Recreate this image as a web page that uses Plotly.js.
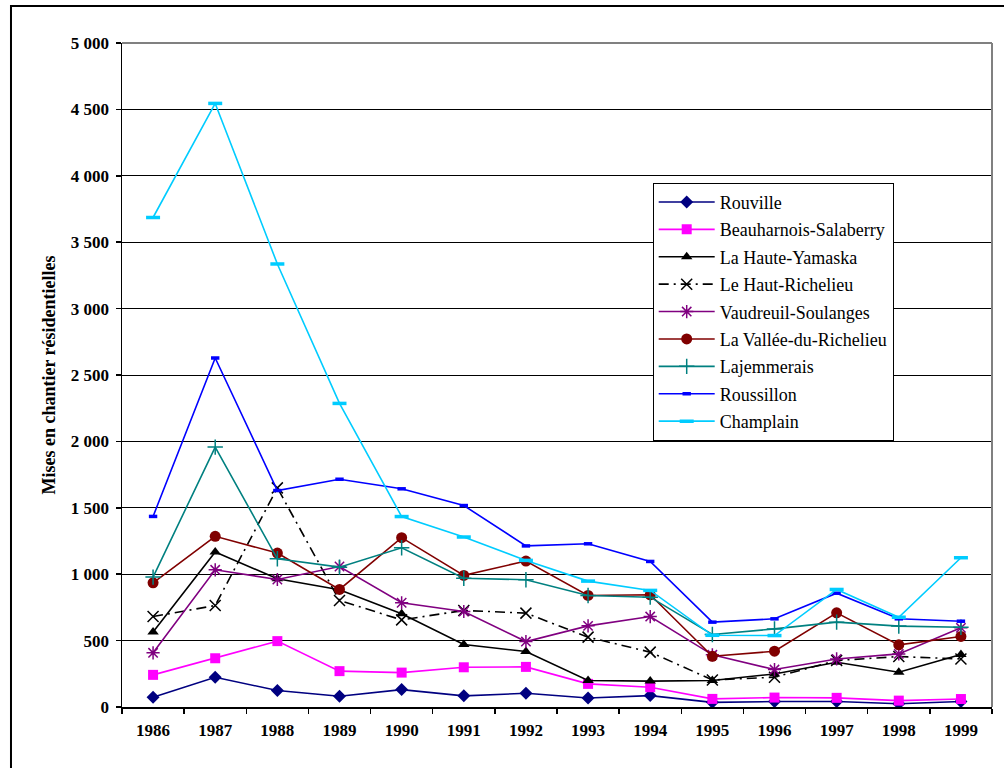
<!DOCTYPE html>
<html>
<head>
<meta charset="utf-8">
<script src="https://cdn.plot.ly/plotly-3.0.1.min.js"></script>
<style>html,body{margin:0;padding:0;background:#fff;}#chart{width:1004px;height:768px;}</style>
</head>
<body>
<div id="chart"></div>
<script>
const years = ['1986','1987','1988','1989','1990','1991','1992','1993','1994','1995','1996','1997','1998','1999'];
const rouville = [73, 224, 124, 81, 131, 84, 103, 68, 86, 35, 41, 41, 25, 41];
const beauharnois = [242, 367, 496, 270, 259, 299, 302, 174, 149, 61, 71, 69, 48, 60];
const hauteYamaska = [564, 1167, 966, 883, 702, 470, 418, 199, 195, 199, 249, 337, 262, 395];
const hautRichelieu = [681, 764, 1650, 802, 656, 727, 707, 526, 413, 204, 224, 350, 380, 362];
const vaudreuil = [408, 1033, 960, 1058, 785, 719, 493, 611, 681, 393, 282, 362, 400, 596];
const vallee = [935, 1285, 1159, 885, 1275, 991, 1099, 840, 845, 382, 420, 709, 468, 531];
const lajemmerais = [978, 1957, 1116, 1053, 1199, 970, 958, 840, 827, 546, 588, 639, 609, 601];
const roussillon = [1435, 2628, 1630, 1715, 1643, 1517, 1213, 1229, 1096, 639, 664, 857, 664, 646];
const champlain = [3686, 4545, 3336, 2286, 1434, 1280, 1104, 948, 878, 540, 538, 885, 676, 1124];

const names = ['Rouville','Beauharnois-Salaberry','La Haute-Yamaska','Le Haut-Richelieu','Vaudreuil-Soulanges','La Vallée-du-Richelieu','Lajemmerais','Roussillon','Champlain'];
const series = [rouville, beauharnois, hauteYamaska, hautRichelieu, vaudreuil, vallee, lajemmerais, roussillon, champlain];

const styles = [
  {color:'#000080', symbol:'diamond', size:10, dash:'solid'},
  {color:'#FF00FF', symbol:'square', size:10, dash:'solid'},
  {color:'#000000', symbol:'triangle-up', size:10, dash:'solid'},
  {color:'#000000', symbol:'x-thin-open', size:11, dash:'10px,5px,2px,5px', mlw:1.5},
  {color:'#800080', symbol:'asterisk-open', size:11, dash:'solid', mlw:1.5},
  {color:'#800000', symbol:'circle', size:11, dash:'solid'},
  {color:'#008080', symbol:'cross-thin-open', size:11, dash:'solid', mlw:1.5},
  {color:'#0000FF', symbol:'line-ew-open', size:6, dash:'solid', mlw:3.5},
  {color:'#00CCFF', symbol:'line-ew-open', size:10, dash:'solid', mlw:3.5}
];

const traces = series.map((vals, i) => {
  const s = styles[i];
  const marker = {color: s.color, symbol: s.symbol, size: s.size};
  if (s.mlw) marker.line = {color: s.color, width: s.mlw};
  return {
    type: 'scatter', mode: 'lines+markers', name: names[i], legendgroup: names[i],
    x: years, y: vals,
    line: {color: s.color, width: 1.6, dash: s.dash},
    marker: marker
  };
});

const serif = '"Liberation Serif", "Times New Roman", serif';
const layout = {
  width: 1004, height: 768,
  margin: {l: 122, r: 12, t: 43, b: 61},
  paper_bgcolor: '#ffffff', plot_bgcolor: '#ffffff',
  separators: '. ',
  font: {family: serif, color: '#000000', size: 16},
  showlegend: true,
  legend: {
    x: 0.61, y: 0.7895, xanchor: 'left', yanchor: 'top',
    bgcolor: '#ffffff', bordercolor: '#000000', borderwidth: 1,
    font: {family: serif, size: 18, color: '#000000'},
    tracegroupgap: 1, itemwidth: 56
  },
  xaxis: {
    type: 'category', range: [-0.5, 13.5],
    showgrid: false, zeroline: false,
    showline: true, linecolor: '#000000', linewidth: 1.5,
    ticks: 'outside', ticklen: 5, tickcolor: '#000000', tickwidth: 1.5,
    tickson: 'boundaries',
    ticklabelstandoff: 7,
    tickfont: {family: serif, size: 17, weight: 'bold', color: '#000000'}
  },
  yaxis: {
    range: [0, 5000], dtick: 500, tickformat: ',d',
    showgrid: true, gridcolor: '#000000', gridwidth: 1,
    zeroline: false,
    showline: true, linecolor: '#000000', linewidth: 1.5,
    ticks: 'outside', ticklen: 5, tickcolor: '#000000', tickwidth: 1.5,
    ticklabelstandoff: 3,
    tickfont: {family: serif, size: 17, weight: 'bold', color: '#000000'},
    title: {text: 'Mises en chantier résidentielles', standoff: 10,
            font: {family: serif, size: 18, weight: 'bold', color: '#000000'}}
  },
  shapes: [
    {type: 'line', xref: 'paper', yref: 'paper', x0: 0, x1: 1, y0: 1, y1: 1,
     line: {color: '#808080', width: 2}, layer: 'above'},
    {type: 'line', xref: 'paper', yref: 'paper', x0: 1, x1: 1, y0: 0, y1: 1,
     line: {color: '#808080', width: 2}, layer: 'above'},
    {type: 'rect', xref: 'paper', yref: 'paper', x0: -0.1276, x1: 1.06, y0: -0.15, y1: 1.0557,
     line: {color: '#000000', width: 2}, fillcolor: 'rgba(0,0,0,0)', layer: 'above'}
  ]
};

Plotly.newPlot('chart', traces, layout, {displayModeBar: false, staticPlot: true});
</script>
</body>
</html>
